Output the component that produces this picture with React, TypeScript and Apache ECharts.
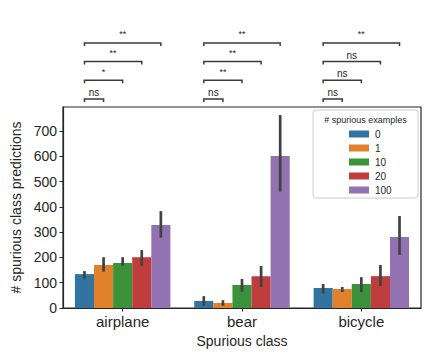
import React, { useEffect, useRef } from "react";
import * as echarts from "echarts";

const categories = ["airplane", "bear", "bicycle"];
const seriesNames = ["0", "1", "10", "20", "100"];
const colors = ["#3274a1", "#e1812c", "#3a923a", "#c03d3e", "#9372b2"];
// mean values per series (index = series), per category
const means = [
  [134, 28, 79],
  [170, 20, 75],
  [178, 91, 95],
  [201, 126, 126],
  [328, 601, 281],
];
const lows = [
  [116, 9, 57],
  [144, 9, 63],
  [167, 64, 63],
  [167, 83, 87],
  [278, 460, 210],
];
const highs = [
  [146, 47, 95],
  [201, 31, 83],
  [201, 115, 122],
  [229, 166, 170],
  [383, 763, 364],
];
const yTicks = [0, 100, 200, 300, 400, 500, 600, 700];
// significance labels: comparison of series 0 vs series k (k = 1..4), per category
const sigLabels = [
  ["ns", "*", "**", "**"],
  ["ns", "**", "**", "**"],
  ["ns", "ns", "ns", "**"],
];

const FONT = "Liberation Sans";

export default function App() {
  const ref = useRef<HTMLDivElement>(null);
  useEffect(() => {
    const chart = echarts.init(ref.current!, null, { renderer: "svg" });
    const nSeries = seriesNames.length;

    const barSeries = seriesNames.map((name, i) => ({
      name,
      type: "bar",
      data: means[i],
      itemStyle: { color: colors[i] },
      barGap: "0%",
      barCategoryGap: "20%",
      z: 2,
    }));

    const errData: number[][] = [];
    for (let i = 0; i < nSeries; i++) {
      for (let c = 0; c < categories.length; c++) {
        errData.push([c, lows[i][c], highs[i][c], i]);
      }
    }

    const bracketData: any[] = [];
    for (let c = 0; c < categories.length; c++) {
      for (let k = 1; k < nSeries; k++) {
        bracketData.push({ value: [c, k], label: sigLabels[c][k - 1] });
      }
    }

    chart.setOption({
      animation: false,
      textStyle: { fontFamily: FONT },
      grid: {
        left: 63,
        right: 11,
        top: 107,
        bottom: 52,
        show: true,
        borderColor: "#262626",
        borderWidth: 1.2,
        backgroundColor: "transparent",
      },
      legend: {
        data: seriesNames,
        orient: "vertical",
        left: 344,
        top: 124,
        icon: "rect",
        itemWidth: 20,
        itemHeight: 7,
        itemGap: 4,
        textStyle: { fontSize: 10, color: "#262626", fontFamily: FONT, padding: [0, 0, 0, 1] },
      },
      xAxis: {
        type: "category",
        data: categories,
        name: "Spurious class",
        nameLocation: "middle",
        nameGap: 26,
        nameTextStyle: { fontSize: 14, color: "#262626", fontFamily: FONT },
        axisLine: { lineStyle: { color: "#262626", width: 1.2 } },
        axisTick: { show: true, alignWithLabel: true, length: 3.5, lineStyle: { color: "#262626" } },
        axisLabel: { fontSize: 15, color: "#262626", margin: 6, fontFamily: FONT },
      },
      yAxis: {
        type: "value",
        min: 0,
        max: 795,
        interval: 100,
        name: "# spurious class predictions",
        nameLocation: "middle",
        nameGap: 38,
        nameTextStyle: { fontSize: 14, color: "#262626", fontFamily: FONT },
        splitLine: { show: false },
        axisLine: { show: true, lineStyle: { color: "#262626", width: 1.2 } },
        axisTick: { show: true, length: 3.5, customValues: yTicks, lineStyle: { color: "#262626" } },
        axisLabel: { fontSize: 14, color: "#262626", margin: 6, customValues: yTicks, fontFamily: FONT },
      },
      series: [
        ...barSeries,
        {
          type: "custom",
          name: "err",
          z: 5,
          data: errData,
          renderItem: (params: any, api: any) => {
            const c = api.value(0);
            const i = api.value(3);
            const bw = api.size([1, 0])[0];
            const barW = (bw * 0.8) / nSeries;
            const x = api.coord([c, 0])[0] + (i - (nSeries - 1) / 2) * barW;
            const y1 = api.coord([c, api.value(1)])[1];
            const y2 = api.coord([c, api.value(2)])[1];
            return {
              type: "line",
              shape: { x1: x, y1, x2: x, y2 },
              style: { stroke: "#424242", lineWidth: 2.7 },
            };
          },
        },
        {
          type: "custom",
          name: "brackets",
          z: 5,
          clip: false,
          data: bracketData,
          renderItem: (params: any, api: any) => {
            const c = api.value(0);
            const k = api.value(1);
            const bw = api.size([1, 0])[0];
            const barW = (bw * 0.8) / nSeries;
            const cx = api.coord([c, 0])[0];
            const xa = cx + (0 - (nSeries - 1) / 2) * barW;
            const xb = cx + (k - (nSeries - 1) / 2) * barW;
            const yl = 99 - (k - 1) * 18.7;
            const lab = bracketData[params.dataIndex].label;
            return {
              type: "group",
              children: [
                {
                  type: "polyline",
                  shape: { points: [[xa, yl + 3], [xa, yl], [xb, yl], [xb, yl + 3]] },
                  style: { stroke: "#3a3a3a", lineWidth: 1.5, fill: "none" },
                },
                {
                  type: "text",
                  style: {
                    x: (xa + xb) / 2,
                    y: lab === "ns" ? yl - 1.5 : yl - 4,
                    text: lab,
                    align: "center",
                    verticalAlign: "bottom",
                    fontSize: lab === "ns" ? 10 : 9,
                    fontFamily: FONT,
                    fill: "#262626",
                  },
                },
              ],
            };
          },
        },
      ],
      graphic: [
        {
          type: "rect",
          shape: { x: 313, y: 110, width: 105, height: 88, r: 3 },
          style: { fill: "rgba(255,255,255,0.8)", stroke: "#cccccc", lineWidth: 1 },
          z: 1,
        },
        {
          type: "text",
          style: {
            x: 365.5,
            y: 120,
            text: "# spurious examples",
            align: "center",
            verticalAlign: "middle",
            fontSize: 9,
            fontFamily: FONT,
            fill: "#262626",
          },
          z: 10,
        },
      ],
    });
    return () => chart.dispose();
  }, []);
  return <div ref={ref} style={{ width: 432, height: 360, position: "absolute", left: 0, top: 0 }} />;
}
